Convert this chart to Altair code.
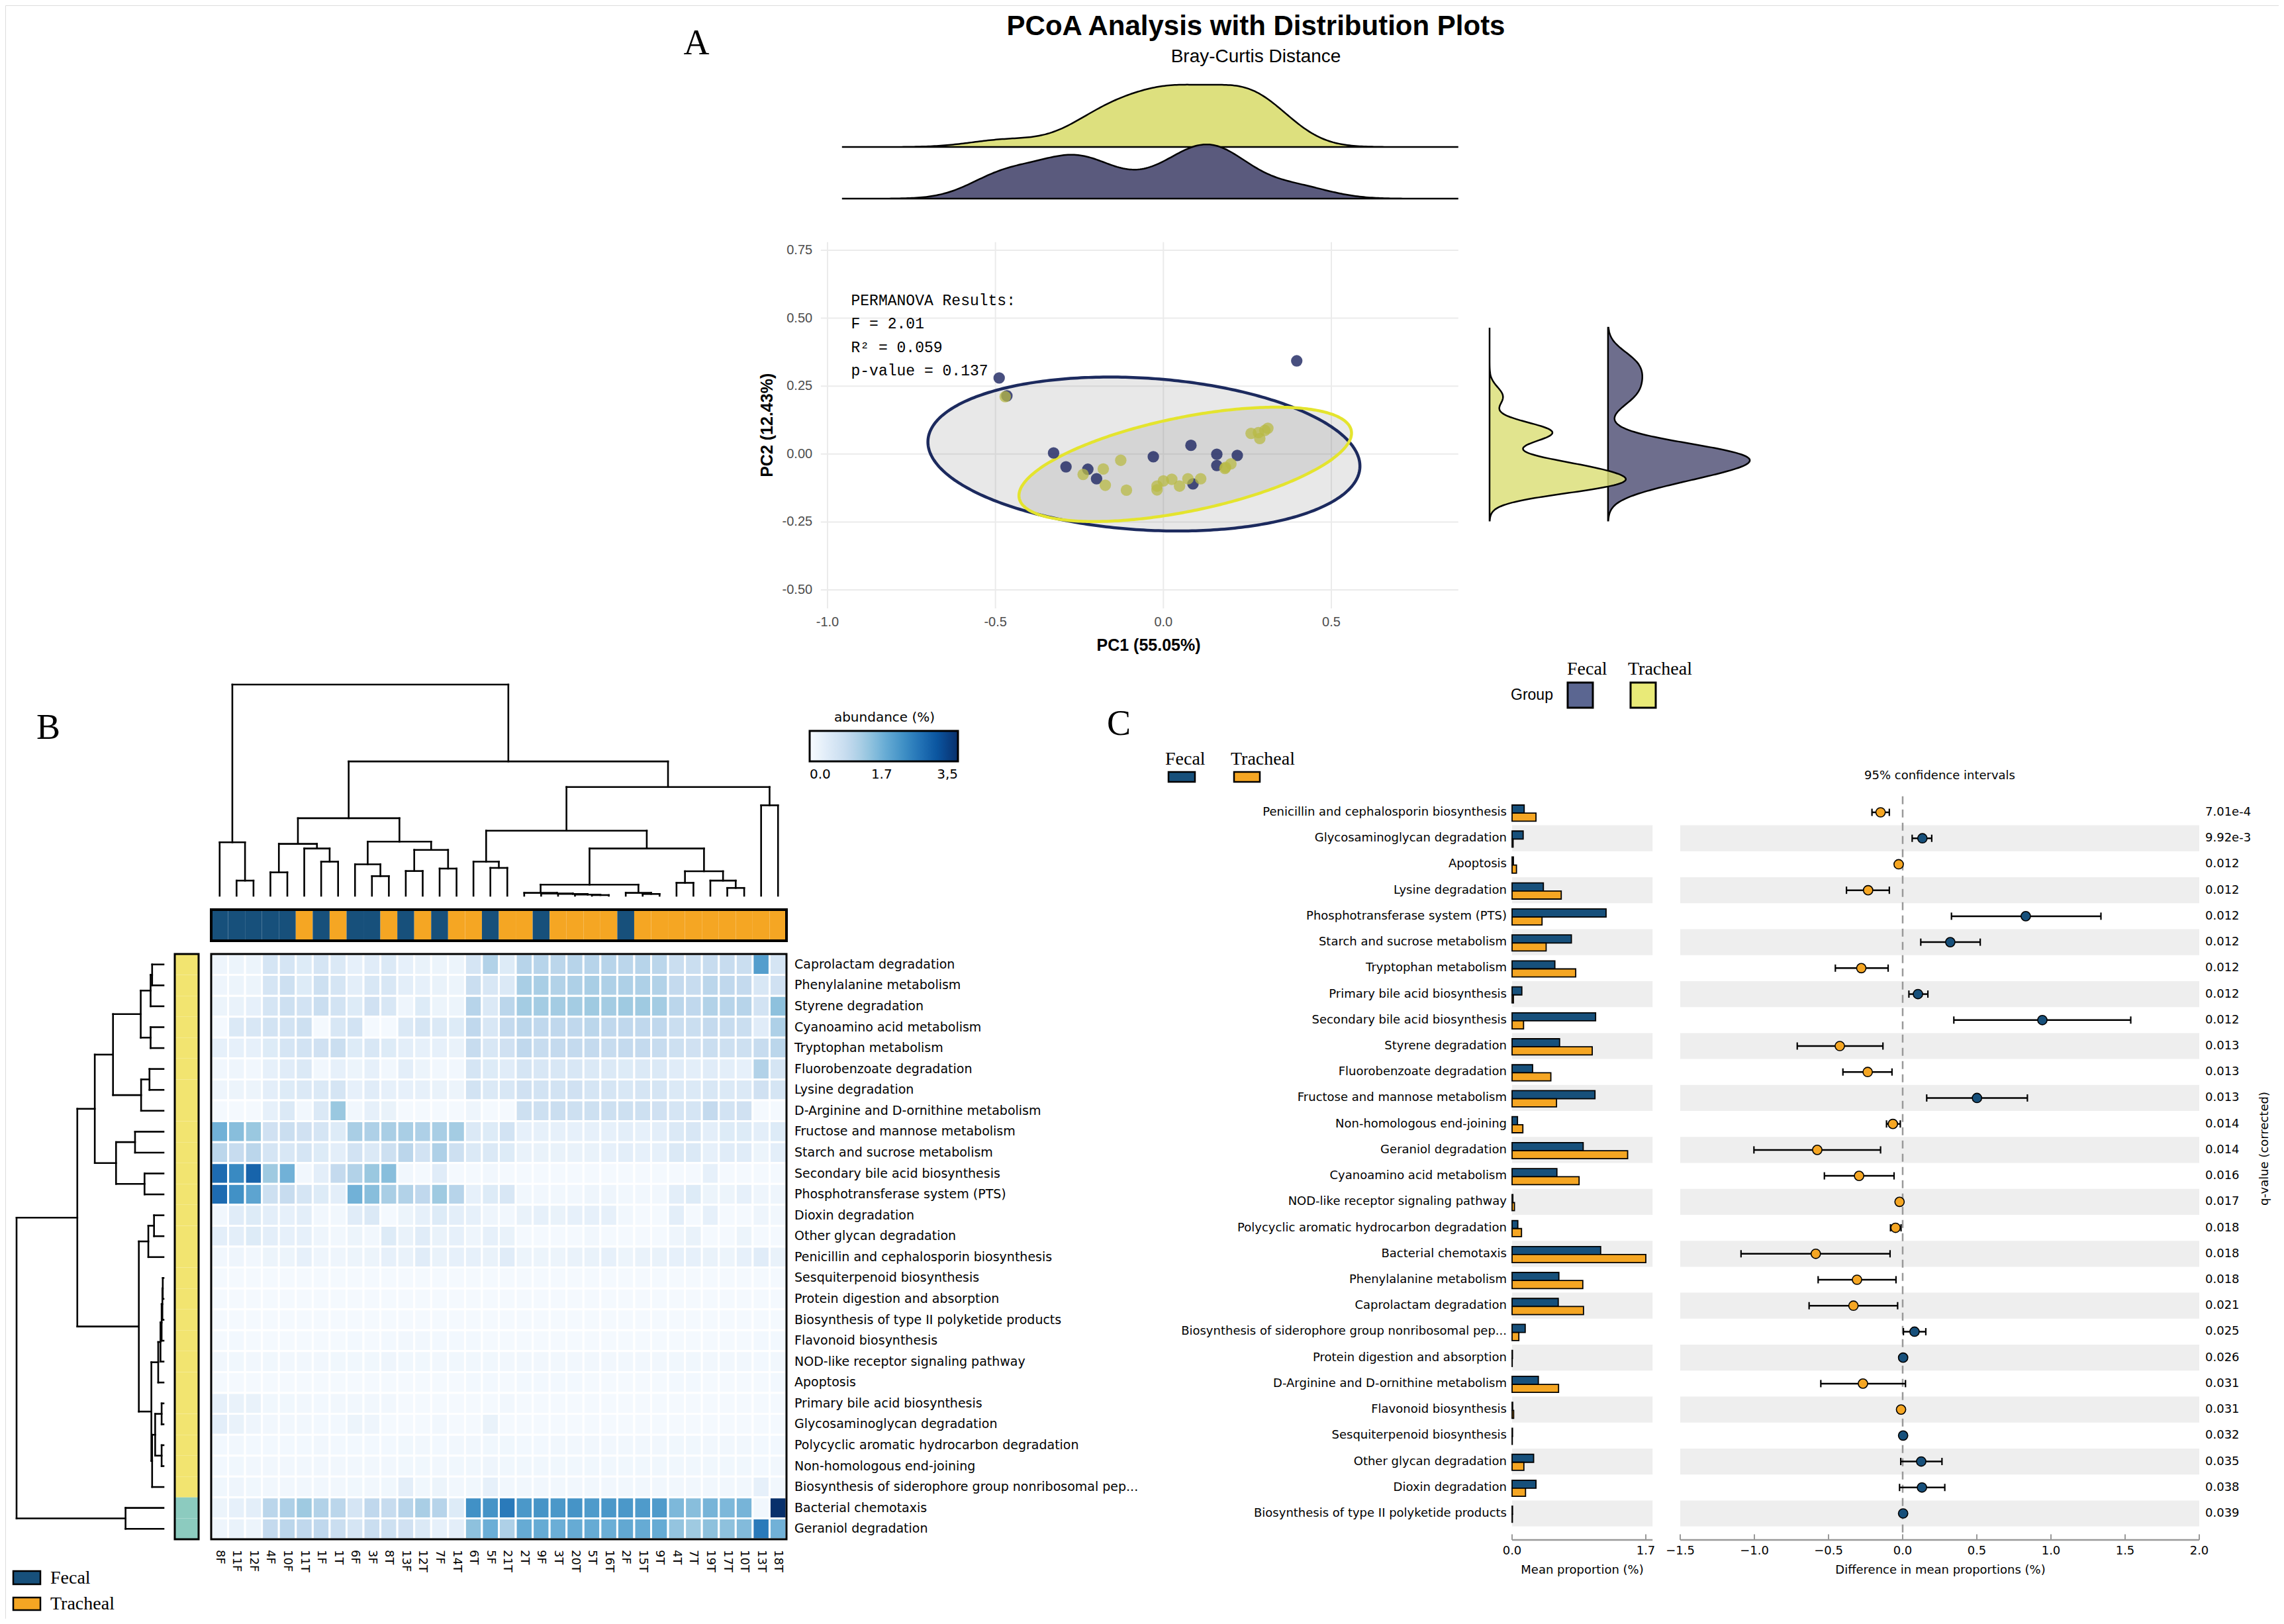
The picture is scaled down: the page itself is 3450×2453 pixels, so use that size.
import altair as alt
import numpy as np
import pandas as pd

alt.data_transformers.disable_max_rows()

# ============================ DATA ============================
# ---- Panel A : PCoA (Bray-Curtis) sample coordinates ----
fecal_pc1 = [-0.489, -0.466, 0.397, -0.327, -0.290, -0.225, -0.199, -0.030, 0.082, 0.159, 0.159, 0.220, 0.088]
fecal_pc2 = [0.280, 0.214, 0.343, 0.004, -0.047, -0.056, -0.091, -0.010, 0.032, -0.001, -0.042, -0.005, -0.110]
tracheal_pc1 = [-0.471, -0.239, -0.179, -0.127, -0.173, -0.110, -0.019, 0.000, 0.025, 0.048, 0.073,
                0.111, 0.185, 0.201, 0.261, 0.287, 0.302, 0.311, 0.183, -0.019, 0.283]
tracheal_pc2 = [0.211, -0.075, -0.055, -0.023, -0.115, -0.133, -0.132, -0.099, -0.093, -0.118, -0.091,
                -0.091, -0.049, -0.036, 0.076, 0.057, 0.087, 0.095, -0.053, -0.118, 0.079]
# confidence ellipses: centre, semi-axes, rotation (radians)
ell_group = ["Fecal", "Tracheal"]
ell_cx = [-0.058, 0.065]
ell_cy = [0.000, -0.038]
ell_a = [0.645, 0.510]
ell_b = [0.279, 0.171]
ell_rot = [-0.085, 0.258]
permanova_lines = ["PERMANOVA Results:", "F = 2.01", "R\u00b2 = 0.059", "p-value = 0.137"]
x_ticks_a = [-1.0, -0.5, 0.0, 0.5]
y_ticks_a = [-0.5, -0.25, 0.0, 0.25, 0.5, 0.75]

# ---- Panel B : heatmap ----
samples = ["8F", "11F", "12F", "4F", "10F", "11T", "1F", "1T", "6F", "3F", "8T", "13F", "12T", "7F", "14T",
           "6T", "5F", "21T", "2T", "9F", "3T", "20T", "5T", "16T", "2F", "15T", "9T", "4T", "7T", "19T",
           "17T", "10T", "13T", "18T"]
pathways_b = ["Caprolactam degradation", "Phenylalanine metabolism", "Styrene degradation",
              "Cyanoamino acid metabolism", "Tryptophan metabolism", "Fluorobenzoate degradation",
              "Lysine degradation", "D-Arginine and D-ornithine metabolism", "Fructose and mannose metabolism",
              "Starch and sucrose metabolism", "Secondary bile acid biosynthesis",
              "Phosphotransferase system (PTS)", "Dioxin degradation", "Other glycan degradation",
              "Penicillin and cephalosporin biosynthesis", "Sesquiterpenoid biosynthesis",
              "Protein digestion and absorption", "Biosynthesis of type II polyketide products",
              "Flavonoid biosynthesis", "NOD-like receptor signaling pathway", "Apoptosis",
              "Primary bile acid biosynthesis", "Glycosaminoglycan degradation",
              "Polycyclic aromatic hydrocarbon degradation", "Non-homologous end-joining",
              "Biosynthesis of siderophore group nonribosomal pep...", "Bacterial chemotaxis",
              "Geraniol degradation"]
ab_caprolactam = [.15, .2, .2, .6, .6, .45, .6, .5, .3, .4, .5, .3, .25, .2, .2, .6, 1.1, .45, 1.05, 1.05, 1.0, 1.05, 1.05, 1.05, 1.0, 1.05, 1.0, .8, .8, .85, .85, .8, 2.0, .6]
ab_phenylalanine = [.15, .2, .2, .6, .75, .45, .75, .6, .35, .55, .55, .35, .3, .25, .2, .8, .55, .5, 1.2, 1.2, 1.1, 1.15, 1.2, 1.15, 1.15, 1.15, 1.1, .9, .85, 1.0, .95, .9, .55, .7]
ab_styrene = [.2, .25, .3, .6, .75, .65, .8, .65, .45, .7, .55, .15, .45, .2, .2, 1.05, .5, 1.0, 1.25, 1.25, 1.25, 1.25, 1.3, 1.25, 1.3, 1.3, 1.25, 1.0, .95, 1.1, 1.05, 1.05, .65, 1.45]
ab_cyanoamino = [.05, .5, .55, .65, .65, .75, .05, .55, .65, .05, .05, .5, .6, .5, .45, .95, .55, .9, 1.0, .95, .95, .95, 1.0, .95, .95, .95, .95, .8, .8, .9, .85, .8, .4, 1.15]
ab_tryptophan = [.3, .3, .3, .45, .6, .65, .7, .8, .45, .55, .45, .35, .3, .3, .25, .85, .55, .7, .95, .85, .9, .9, .9, .85, .9, .9, .85, .75, .7, .8, .75, .75, .85, 1.0]
ab_fluorobenzoate = [.1, .15, .1, .3, .4, .5, .1, .3, .2, .3, .1, .35, .2, .1, .1, .6, .45, .4, .6, .55, .55, .55, .5, .5, .45, .5, .5, .4, .35, .4, .35, .3, 1.1, .6]
ab_lysine = [.15, .2, .2, .35, .45, .5, .5, .6, .3, .4, .3, .3, .3, .25, .2, .65, .5, .55, .7, .65, .65, .7, .6, .6, .55, .6, .6, .5, .5, .55, .5, .5, .7, .6]
ab_darginine = [.05, .05, .05, .3, .5, .1, .5, 1.35, .1, .3, .25, .05, .05, .05, .05, .15, .05, .05, .75, .75, .8, .75, .75, .75, .75, .75, .7, .6, .6, .9, .65, .7, .05, .05]
ab_fructose = [1.7, 1.5, 1.35, .7, .8, .7, .6, .45, 1.2, 1.15, 1.2, 1.2, 1.15, 1.2, 1.25, .5, .45, .65, .3, .3, .3, .3, .3, .3, .35, .3, .35, .5, .55, .35, .45, .45, .35, .45]
ab_starch = [1.0, .85, 1.0, .6, .55, .6, .45, .35, .65, .5, .75, 1.0, .65, 1.15, .75, .5, .5, .45, .25, .25, .25, .25, .25, .3, .35, .3, .3, .5, .5, .3, .4, .4, .2, .35]
ab_secondary_bile = [2.7, 2.3, 2.8, 1.3, 1.7, .1, .35, .9, 1.1, 1.35, 1.5, .1, .05, .4, .05, .05, .1, .05, .05, .05, .05, .05, .05, .05, .05, .05, .05, .05, .05, .3, .05, .05, .05, .05]
ab_pts = [2.7, 2.2, 1.9, .75, .85, .6, .45, .35, 1.7, 1.5, 1.2, 1.1, .95, 1.3, 1.05, .3, .45, .55, .1, .1, .1, .1, .15, .15, .1, .1, .1, .35, .45, .2, .2, .3, .15, .15]
ab_dioxin = [.1, .4, .45, .35, .3, .35, .1, .1, .4, .5, .05, .2, .3, .45, .35, .3, .15, .1, .25, .3, .25, .3, .3, .3, .1, .05, .05, .35, .05, .3, .05, .05, .15, .1]
ab_other_glycan = [.35, .35, .45, .35, .3, .3, .15, .1, .2, .1, .45, .25, .4, .25, .3, .15, .3, .25, .05, .05, .05, .05, .1, .05, .05, .05, .05, .15, .25, .05, .05, .2, .05, .05]
ab_penicillin = [.1, .15, .1, .2, .2, .3, .15, .15, .2, .2, .3, .25, .4, .25, .3, .3, .25, .4, .2, .2, .2, .25, .25, .3, .2, .25, .25, .3, .3, .25, .2, .3, .4, .25]
ab_sesquiterpenoid = [.05, .06, .05, .05, .05, .05, .06, .05, .05, .06, .05, .05, .06, .05, .05, .06, .05, .05, .05, .06, .05, .05, .06, .05, .05, .05, .05, .06, .05, .05, .05, .05, .06, .05]
ab_protein = [.06, .05, .05, .06, .05, .05, .05, .05, .06, .05, .05, .05, .05, .05, .05, .05, .05, .06, .05, .05, .05, .05, .05, .05, .05, .05, .05, .05, .05, .05, .05, .05, .05, .05]
ab_polyketide = [.05, .06, .05, .05, .06, .05, .05, .05, .05, .05, .05, .05, .05, .05, .05, .05, .06, .05, .05, .05, .05, .05, .05, .05, .05, .05, .05, .05, .05, .05, .05, .05, .06, .05]
ab_flavonoid = [.06, .08, .06, .06, .06, .06, .06, .06, .08, .06, .08, .1, .1, .08, .08, .08, .06, .06, .06, .06, .06, .06, .06, .06, .06, .06, .06, .06, .06, .06, .06, .06, .08, .08]
ab_nod = [.1, .12, .1, .12, .1, .1, .1, .12, .12, .12, .15, .12, .12, .1, .12, .12, .12, .1, .1, .1, .1, .1, .1, .1, .1, .1, .1, .12, .12, .1, .1, .1, .08, .1]
ab_apoptosis = [.06, .06, .06, .06, .06, .06, .06, .06, .06, .06, .06, .06, .06, .06, .06, .08, .08, .06, .08, .08, .08, .08, .06, .06, .06, .06, .06, .08, .08, .06, .06, .06, .06, .08]
ab_primary_bile = [.3, .25, .25, .12, .12, .1, .08, .1, .1, .1, .1, .06, .05, .05, .05, .06, .06, .1, .05, .05, .05, .05, .05, .05, .05, .05, .05, .05, .05, .05, .05, .05, .05, .05]
ab_glycosaminoglycan = [.35, .25, .15, .1, .1, .1, .08, .08, .2, .15, .06, .05, .05, .1, .05, .06, .25, .05, .05, .05, .05, .05, .05, .05, .05, .05, .05, .05, .05, .05, .05, .05, .05, .05]
ab_polycyclic = [.08, .1, .08, .08, .08, .08, .1, .08, .08, .08, .08, .12, .1, .08, .1, .1, .12, .12, .08, .08, .1, .1, .1, .1, .1, .1, .1, .12, .12, .1, .1, .1, .08, .08]
ab_nonhomologous = [.08, .12, .1, .1, .1, .1, .1, .1, .1, .1, .1, .12, .12, .1, .12, .12, .15, .12, .12, .12, .12, .12, .12, .12, .12, .12, .12, .12, .12, .12, .12, .12, .08, .1]
ab_siderophore = [.12, .15, .12, .1, .1, .1, .1, .1, .12, .1, .12, .35, .12, .2, .1, .12, .3, .1, .1, .1, .1, .1, .1, .1, .1, .1, .1, .1, .1, .1, .1, .1, .3, .1]
ab_chemotaxis = [.2, .3, .35, 1.0, 1.15, 1.3, 1.1, 1.0, .6, .95, .85, 1.05, 1.2, 1.05, .45, 2.2, 2.15, 2.5, 2.1, 2.15, 2.1, 2.15, 2.05, 2.1, 2.1, 2.05, 2.05, 1.6, 1.5, 1.65, 1.6, 1.65, .1, 3.5]
ab_geraniol = [.15, .25, .2, .9, 1.0, .95, .95, .8, .6, .8, .75, .7, .5, .3, .35, 1.45, 1.75, 1.15, 1.8, 1.8, 1.75, 1.8, 1.8, 1.75, 1.85, 1.8, 1.8, 1.4, 1.3, 1.45, 1.45, 1.55, 2.5, 1.7]
abundance_rows = [ab_caprolactam, ab_phenylalanine, ab_styrene, ab_cyanoamino, ab_tryptophan,
                  ab_fluorobenzoate, ab_lysine, ab_darginine, ab_fructose, ab_starch, ab_secondary_bile,
                  ab_pts, ab_dioxin, ab_other_glycan, ab_penicillin, ab_sesquiterpenoid, ab_protein,
                  ab_polyketide, ab_flavonoid, ab_nod, ab_apoptosis, ab_primary_bile, ab_glycosaminoglycan,
                  ab_polycyclic, ab_nonhomologous, ab_siderophore, ab_chemotaxis, ab_geraniol]
# hierarchical clustering (child a, child b, merge height); leaves 0..n-1, new nodes n, n+1, ...
col_merges = [(1, 2, 68), (0, 34, 240), (3, 4, 105), (6, 7, 153), (5, 37, 212), (36, 38, 233),
              (9, 10, 88), (8, 40, 141), (11, 12, 111), (13, 14, 122), (42, 43, 206), (41, 44, 243),
              (39, 45, 348), (16, 17, 125), (15, 47, 153), (22, 23, 3), (21, 49, 5), (20, 50, 8),
              (19, 51, 10), (18, 52, 13), (25, 26, 8), (24, 54, 13), (53, 55, 50), (27, 28, 58),
              (30, 31, 35), (29, 58, 68), (57, 59, 110), (56, 60, 212), (48, 61, 292), (32, 33, 406),
              (62, 63, 488), (46, 64, 603), (35, 65, 948)]
row_merges = [(0, 1, 30), (28, 2, 34), (3, 4, 34), (29, 30, 60), (5, 6, 37), (32, 7, 59), (31, 33, 133),
              (8, 9, 75), (10, 11, 50), (35, 36, 125), (34, 37, 181), (12, 13, 25), (39, 14, 40),
              (15, 16, 2), (41, 17, 3), (42, 18, 5), (43, 19, 8), (44, 20, 14), (21, 22, 5), (23, 24, 5),
              (46, 47, 22), (48, 25, 30), (45, 49, 32), (40, 50, 65), (38, 51, 227), (26, 27, 100),
              (52, 53, 387)]
row_cluster = ["cluster 1"] * 26 + ["cluster 2"] * 2
abundance_ticks = [0.0, 1.7, 3.5]

# ---- Panel C : extended error bar ----
pathways_c = ["Penicillin and cephalosporin biosynthesis", "Glycosaminoglycan degradation", "Apoptosis",
              "Lysine degradation", "Phosphotransferase system (PTS)", "Starch and sucrose metabolism",
              "Tryptophan metabolism", "Primary bile acid biosynthesis", "Secondary bile acid biosynthesis",
              "Styrene degradation", "Fluorobenzoate degradation", "Fructose and mannose metabolism",
              "Non-homologous end-joining", "Geraniol degradation", "Cyanoamino acid metabolism",
              "NOD-like receptor signaling pathway", "Polycyclic aromatic hydrocarbon degradation",
              "Bacterial chemotaxis", "Phenylalanine metabolism", "Caprolactam degradation",
              "Biosynthesis of siderophore group nonribosomal pep...", "Protein digestion and absorption",
              "D-Arginine and D-ornithine metabolism", "Flavonoid biosynthesis", "Sesquiterpenoid biosynthesis",
              "Other glycan degradation", "Dioxin degradation", "Biosynthesis of type II polyketide products"]
mean_fecal = [0.154, 0.141, 0.017, 0.398, 1.195, 0.754, 0.544, 0.124, 1.062, 0.604, 0.261, 1.054, 0.069,
              0.904, 0.570, 0.010, 0.073, 1.126, 0.595, 0.587, 0.167, 0.005, 0.334, 0.008, 0.006, 0.274,
              0.304, 0.006]
mean_tracheal = [0.304, 0.013, 0.056, 0.625, 0.381, 0.433, 0.809, 0.017, 0.146, 1.019, 0.493, 0.565, 0.137,
                 1.469, 0.852, 0.030, 0.120, 1.700, 0.899, 0.908, 0.086, 0.002, 0.591, 0.020, 0.003, 0.150,
                 0.171, 0.004]
diff_mean = [-0.149, 0.133, -0.027, -0.233, 0.830, 0.321, -0.279, 0.103, 0.942, -0.424, -0.236, 0.501,
             -0.066, -0.576, -0.294, -0.021, -0.048, -0.586, -0.308, -0.332, 0.080, 0.003, -0.268, -0.011,
             0.003, 0.125, 0.130, 0.003]
ci_low = [-0.207, 0.064, -0.036, -0.379, 0.329, 0.122, -0.454, 0.042, 0.345, -0.711, -0.403, 0.162, -0.109,
          -1.003, -0.528, -0.028, -0.082, -1.090, -0.570, -0.631, 0.005, 0.001, -0.552, -0.016, 0.001,
          -0.013, -0.021, 0.001]
ci_high = [-0.090, 0.196, -0.018, -0.090, 1.337, 0.523, -0.098, 0.170, 1.538, -0.133, -0.072, 0.841,
           -0.016, -0.149, -0.058, -0.014, -0.011, -0.085, -0.045, -0.034, 0.156, 0.005, 0.019, -0.006,
           0.005, 0.265, 0.284, 0.005]
q_values = ["7.01e-4", "9.92e-3", "0.012", "0.012", "0.012", "0.012", "0.012", "0.012", "0.012", "0.013",
            "0.013", "0.013", "0.014", "0.014", "0.016", "0.017", "0.018", "0.018", "0.018", "0.021",
            "0.025", "0.026", "0.031", "0.031", "0.032", "0.035", "0.038", "0.039"]
bar_ticks = [0.0, 1.7]
ci_ticks = [-1.5, -1.0, -0.5, 0.0, 0.5, 1.0, 1.5, 2.0]

# ============================ STYLE / LAYOUT ============================
W, H = 3434, 2437


def P(v):
    return v - 8


SANS = "DejaVu Sans"
ARIAL = "Liberation Sans"
SERIF = "Liberation Serif"
MONO = "Liberation Mono"
NAVY = "#17507b"
ORANGE = "#f5a623"
PT_F = "#283069"
PT_T = "#b8b945"
DENS_F = "#555579"
DENS_T = "#dcdf7a"

xA = alt.Scale(domain=[-1.0, 0.5], range=[P(1250), P(2011)])
yA = alt.Scale(domain=[-0.5, 0.75], range=[P(891), P(378)])
yTop = alt.Scale(domain=[0, 1], range=[P(300), P(212)])
xRight = alt.Scale(domain=[0, 1], range=[P(2250), P(2460)])

xB = alt.Scale(domain=[0, 34], range=[P(319), P(1188)])
yB = alt.Scale(domain=[0, 28], range=[P(1441), P(2325)])
hTop = alt.Scale(domain=[0, 948], range=[P(1353), P(1034)])
hLeft = alt.Scale(domain=[0, 387], range=[P(247), P(25)])
yColBar = alt.Scale(domain=[0, 1], range=[P(1374), P(1421)])
xRowBar = alt.Scale(domain=[0, 1], range=[P(264), P(300)])

yC = alt.Scale(domain=[0, 27], range=[P(1227), P(2286)])
xBar = alt.Scale(domain=[0, 1.7], range=[P(2284), P(2486)])
xCI = alt.Scale(domain=[-1.5, 2.0], range=[P(2538), P(3322)])

blue_dom = [0, 0.4375, 0.875, 1.3125, 1.75, 2.1875, 2.625, 3.0625, 3.5]
blue_rng = ["#f7fbff", "#deebf7", "#c6dbef", "#9ecae1", "#6baed6", "#4292c6", "#2171b5", "#08519c", "#08306b"]

layers = []


def txt(items, **kw):
    df = pd.DataFrame(items, columns=["x", "y", "t"])
    df["x"] = df["x"] - 8
    df["y"] = df["y"] - 8
    return alt.Chart(df).mark_text(**kw).encode(
        x=alt.X("x:Q", scale=None, axis=None),
        y=alt.Y("y:Q", scale=None, axis=None),
        text=alt.Text("t:N"))


def boxes(items, **kw):
    df = pd.DataFrame(items, columns=["x0", "y0", "x1", "y1", "fill"])
    for c in ["x0", "y0", "x1", "y1"]:
        df[c] = df[c] - 8
    return alt.Chart(df).mark_rect(**kw).encode(
        x=alt.X("x0:Q", scale=None, axis=None), x2="x1:Q",
        y=alt.Y("y0:Q", scale=None, axis=None), y2="y1:Q",
        fill=alt.Fill("fill:N", scale=None))


# ============================ PANEL A ============================
layers.append(txt([(1052, 66, "A")], font=SERIF, fontSize=54, align="center", baseline="middle"))
layers.append(txt([(1897, 40, "PCoA Analysis with Distribution Plots")], font=ARIAL, fontSize=42,
                  fontWeight="bold", align="center", baseline="middle"))
layers.append(txt([(1897, 86, "Bray-Curtis Distance")], font=ARIAL, fontSize=28, align="center",
                  baseline="middle"))

# grid
gx = pd.DataFrame({"x": x_ticks_a, "lo": -0.568, "hi": 0.78})
layers.append(alt.Chart(gx).mark_rule(color="#ebebeb", strokeWidth=2).encode(
    x=alt.X("x:Q", scale=xA, axis=None), y=alt.Y("lo:Q", scale=yA, axis=None), y2="hi:Q"))
gy = pd.DataFrame({"y": y_ticks_a, "lo": -1.02, "hi": 0.878})
layers.append(alt.Chart(gy).mark_rule(color="#ebebeb", strokeWidth=2).encode(
    y=alt.Y("y:Q", scale=yA, axis=None), x=alt.X("lo:Q", scale=xA, axis=None), x2="hi:Q"))
# tick labels
tly = pd.DataFrame({"y": y_ticks_a, "x": -1.045, "t": [f"{v:.2f}" for v in y_ticks_a]})
layers.append(alt.Chart(tly).mark_text(align="right", baseline="middle", font=ARIAL, fontSize=20,
                                       color="#4d4d4d").encode(
    x=alt.X("x:Q", scale=xA, axis=None), y=alt.Y("y:Q", scale=yA, axis=None), text="t:N"))
tlx = pd.DataFrame({"x": x_ticks_a, "y": -0.62, "t": [f"{v:.1f}" for v in x_ticks_a]})
layers.append(alt.Chart(tlx).mark_text(align="center", baseline="middle", font=ARIAL, fontSize=20,
                                       color="#4d4d4d").encode(
    x=alt.X("x:Q", scale=xA, axis=None), y=alt.Y("y:Q", scale=yA, axis=None), text="t:N"))
axt = pd.DataFrame({"x": [-0.044], "y": [-0.705], "t": ["PC1 (55.05%)"]})
layers.append(alt.Chart(axt).mark_text(align="center", baseline="middle", font=ARIAL, fontSize=25,
                                       fontWeight="bold").encode(
    x=alt.X("x:Q", scale=xA, axis=None), y=alt.Y("y:Q", scale=yA, axis=None), text="t:N"))
ayt = pd.DataFrame({"x": [-1.18], "y": [0.106], "t": ["PC2 (12.43%)"]})
layers.append(alt.Chart(ayt).mark_text(align="center", baseline="middle", font=ARIAL, fontSize=25,
                                       fontWeight="bold", angle=270).encode(
    x=alt.X("x:Q", scale=xA, axis=None), y=alt.Y("y:Q", scale=yA, axis=None), text="t:N"))

# ellipses
for g, cx, cy, a, b, r in zip(ell_group, ell_cx, ell_cy, ell_a, ell_b, ell_rot):
    A = np.sin(r) ** 2 / a ** 2 + np.cos(r) ** 2 / b ** 2
    xmax = np.sqrt(a ** 2 * np.cos(r) ** 2 + b ** 2 * np.sin(r) ** 2)
    u = xmax * np.cos(np.linspace(np.pi, 0, 300))
    Bq = 2 * u * np.sin(r) * np.cos(r) * (1 / a ** 2 - 1 / b ** 2)
    Cq = u ** 2 * (np.cos(r) ** 2 / a ** 2 + np.sin(r) ** 2 / b ** 2) - 1
    disc = np.sqrt(np.clip(Bq ** 2 - 4 * A * Cq, 0, None))
    v1 = (-Bq + disc) / (2 * A)
    v2 = (-Bq - disc) / (2 * A)
    fill_df = pd.DataFrame({"x": cx + u, "hi": cy + np.maximum(v1, v2), "lo": cy + np.minimum(v1, v2)})
    layers.append(alt.Chart(fill_df).mark_area(color="#7f7f7f", fillOpacity=0.18).encode(
        x=alt.X("x:Q", scale=xA, axis=None), y=alt.Y("hi:Q", scale=yA, axis=None), y2="lo:Q"))
for g, cx, cy, a, b, r in zip(ell_group, ell_cx, ell_cy, ell_a, ell_b, ell_rot):
    t = np.linspace(0, 2 * np.pi, 361)
    ex = cx + a * np.cos(r) * np.cos(t) - b * np.sin(r) * np.sin(t)
    ey = cy + a * np.sin(r) * np.cos(t) + b * np.cos(r) * np.sin(t)
    odf = pd.DataFrame({"x": ex, "y": ey, "t": t})
    col = "#1c2a5e" if g == "Fecal" else "#e4e42e"
    layers.append(alt.Chart(odf).mark_line(color=col, strokeWidth=4.5).encode(
        x=alt.X("x:Q", scale=xA, axis=None), y=alt.Y("y:Q", scale=yA, axis=None), order="t:Q"))

ptsF = pd.DataFrame({"pc1": fecal_pc1, "pc2": fecal_pc2})
ptsT = pd.DataFrame({"pc1": tracheal_pc1, "pc2": tracheal_pc2})
layers.append(alt.Chart(ptsF).mark_circle(size=300, color=PT_F, opacity=0.85).encode(
    x=alt.X("pc1:Q", scale=xA, axis=None), y=alt.Y("pc2:Q", scale=yA, axis=None)))
layers.append(alt.Chart(ptsT).mark_circle(size=300, color=PT_T, opacity=0.75).encode(
    x=alt.X("pc1:Q", scale=xA, axis=None), y=alt.Y("pc2:Q", scale=yA, axis=None)))

perm = pd.DataFrame({"x": -0.93, "y": [0.564, 0.479, 0.393, 0.307], "t": permanova_lines})
layers.append(alt.Chart(perm).mark_text(align="left", baseline="middle", font=MONO, fontSize=23).encode(
    x=alt.X("x:Q", scale=xA, axis=None), y=alt.Y("y:Q", scale=yA, axis=None), text="t:N"))


# marginal densities
def top_density(df, bw, offset, factor, fill):
    return alt.Chart(df).transform_density(
        "pc1", as_=["pos", "dens"], bandwidth=bw, extent=[-0.957, 0.878], steps=300
    ).transform_joinaggregate(dmax="max(dens)").transform_calculate(
        v=f"{offset} + {factor} * datum.dens / datum.dmax", base=f"{offset}"
    ).mark_area(fill=fill, stroke="black", strokeWidth=2.5, fillOpacity=0.97).encode(
        x=alt.X("pos:Q", scale=xA, axis=None), y=alt.Y("v:Q", scale=yTop, axis=None), y2="base:Q")


def right_density(df, bw, offset, factor, fill):
    return alt.Chart(df).transform_density(
        "pc2", as_=["pos", "dens"], bandwidth=bw, extent=[-0.245, 0.465], steps=300
    ).transform_joinaggregate(dmax="max(dens)").transform_calculate(
        v=f"{offset} + {factor} * datum.dens / datum.dmax", base=f"{offset}"
    ).mark_area(orient="horizontal", fill=fill, stroke="black", strokeWidth=2.5, fillOpacity=0.85).encode(
        y=alt.Y("pos:Q", scale=yA, axis=None), x=alt.X("v:Q", scale=xRight, axis=None), x2="base:Q")


layers.append(top_density(ptsT, 0.105, 0.886, 1.07, DENS_T))
layers.append(top_density(ptsF, 0.10, 0.0, 0.93, DENS_F))
layers.append(right_density(ptsF, 0.045, 0.852, 1.02, DENS_F))
layers.append(right_density(ptsT, 0.035, 0.0, 0.98, DENS_T))

# group legend
layers.append(txt([(2282, 1050, "Group")], font=ARIAL, fontSize=23, align="left", baseline="middle"))
layers.append(boxes([(2368, 1031, 2406, 1069, "#5b6691"), (2463, 1031, 2501, 1069, "#e9ea78")],
                    stroke="black", strokeWidth=3))
layers.append(txt([(2367, 1011, "Fecal"), (2459, 1011, "Tracheal")], font=SERIF, fontSize=28,
                  align="left", baseline="middle"))

# ============================ PANEL B ============================
layers.append(txt([(73, 1100, "B")], font=SERIF, fontSize=54, align="center", baseline="middle"))

heat = []
for ri, vals in enumerate(abundance_rows):
    for ci, v in enumerate(vals):
        heat.append({"r0": ri, "r1": ri + 1, "c0": ci, "c1": ci + 1, "v": v})
heat = pd.DataFrame(heat)
layers.append(alt.Chart(heat).mark_rect(stroke="white", strokeWidth=3).encode(
    x=alt.X("c0:Q", scale=xB, axis=None), x2="c1:Q",
    y=alt.Y("r0:Q", scale=yB, axis=None), y2="r1:Q",
    color=alt.Color("v:Q", scale=alt.Scale(domain=blue_dom, range=blue_rng),
                    legend=alt.Legend(orient="none", legendX=P(1223), legendY=P(1074), direction="horizontal",
                                      gradientLength=224, gradientThickness=46, title="abundance (%)",
                                      titleFont=SANS, titleFontSize=20, titleFontWeight="normal",
                                      titleAnchor="middle", titlePadding=10, labelFont=SANS, labelFontSize=20,
                                      values=abundance_ticks, labelOverlap=False, labelOffset=10,
                                      labelExpr="datum.value == 3.5 ? '3,5' : format(datum.value, '.1f')",
                                      gradientStrokeColor="black", gradientStrokeWidth=3, padding=0))))
frame_b = pd.DataFrame({"c0": [0], "c1": [34], "r0": [0], "r1": [28]})
layers.append(alt.Chart(frame_b).mark_rect(fillOpacity=0, stroke="black", strokeWidth=3).encode(
    x=alt.X("c0:Q", scale=xB, axis=None), x2="c1:Q", y=alt.Y("r0:Q", scale=yB, axis=None), y2="r1:Q"))

# column group colour bar
colbar = pd.DataFrame({"c0": list(range(34)), "c1": [i + 1 for i in range(34)], "b0": 0, "b1": 1,
                       "grp": ["Fecal" if s.endswith("F") else "Tracheal" for s in samples]})
layers.append(alt.Chart(colbar).mark_rect().encode(
    x=alt.X("c0:Q", scale=xB, axis=None), x2="c1:Q", y=alt.Y("b0:Q", scale=yColBar, axis=None), y2="b1:Q",
    color=alt.Color("grp:N", scale=alt.Scale(domain=["Fecal", "Tracheal"], range=[NAVY, ORANGE]),
                    legend=None)))
layers.append(alt.Chart(pd.DataFrame({"c0": [0], "c1": [34], "b0": [0], "b1": [1]})).mark_rect(
    fillOpacity=0, stroke="black", strokeWidth=4).encode(
    x=alt.X("c0:Q", scale=xB, axis=None), x2="c1:Q", y=alt.Y("b0:Q", scale=yColBar, axis=None), y2="b1:Q"))

# row cluster colour bar
rowbar = pd.DataFrame({"r0": list(range(28)), "r1": [i + 1 for i in range(28)], "b0": 0, "b1": 1,
                       "cl": row_cluster})
layers.append(alt.Chart(rowbar).mark_rect().encode(
    y=alt.Y("r0:Q", scale=yB, axis=None), y2="r1:Q", x=alt.X("b0:Q", scale=xRowBar, axis=None), x2="b1:Q",
    color=alt.Color("cl:N", scale=alt.Scale(domain=["cluster 1", "cluster 2"], range=["#f2e470", "#8ccbbf"]),
                    legend=None)))
layers.append(alt.Chart(pd.DataFrame({"r0": [0], "r1": [28], "b0": [0], "b1": [1]})).mark_rect(
    fillOpacity=0, stroke="black", strokeWidth=3).encode(
    y=alt.Y("r0:Q", scale=yB, axis=None), y2="r1:Q", x=alt.X("b0:Q", scale=xRowBar, axis=None), x2="b1:Q"))


def dendro_segments(merges, n_leaves):
    pos = {i: i + 0.5 for i in range(n_leaves)}
    hgt = {i: 0.0 for i in range(n_leaves)}
    segs = []
    for k, (a, b, h) in enumerate(merges):
        segs.append((pos[a], hgt[a], pos[a], h))
        segs.append((pos[a], h, pos[b], h))
        segs.append((pos[b], h, pos[b], hgt[b]))
        pos[n_leaves + k] = (pos[a] + pos[b]) / 2
        hgt[n_leaves + k] = h
    return pd.DataFrame(segs, columns=["p0", "h0", "p1", "h1"])


top_seg = dendro_segments(col_merges, 34)
layers.append(alt.Chart(top_seg).mark_rule(color="black", strokeWidth=2.6, strokeCap="square").encode(
    x=alt.X("p0:Q", scale=xB, axis=None), x2="p1:Q", y=alt.Y("h0:Q", scale=hTop, axis=None), y2="h1:Q"))
left_seg = dendro_segments(row_merges, 28)
layers.append(alt.Chart(left_seg).mark_rule(color="black", strokeWidth=2.6, strokeCap="square").encode(
    y=alt.Y("p0:Q", scale=yB, axis=None), y2="p1:Q", x=alt.X("h0:Q", scale=hLeft, axis=None), x2="h1:Q"))

# labels
rl = pd.DataFrame({"p": [i + 0.5 for i in range(28)], "t": pathways_b})
layers.append(alt.Chart(rl).mark_text(align="left", baseline="middle", font=SANS, fontSize=19).encode(
    y=alt.Y("p:Q", scale=yB, axis=None), x=alt.value(P(1200)), text="t:N"))
cl = pd.DataFrame({"p": [i + 0.5 for i in range(34)], "t": samples})
layers.append(alt.Chart(cl).mark_text(align="left", baseline="middle", font=SANS, fontSize=18,
                                      angle=90).encode(
    x=alt.X("p:Q", scale=xB, axis=None), y=alt.value(P(2341)), text="t:N"))

# legend bottom-left
layers.append(boxes([(20, 2373, 61, 2393, NAVY), (20, 2413, 61, 2432, ORANGE)], stroke="black",
                    strokeWidth=2.5))
layers.append(txt([(76, 2384, "Fecal"), (76, 2423, "Tracheal")], font=SERIF, fontSize=28, align="left",
                  baseline="middle"))

# ============================ PANEL C ============================
layers.append(txt([(1690, 1094, "C")], font=SERIF, fontSize=54, align="center", baseline="middle"))
layers.append(txt([(1760, 1147, "Fecal"), (1859, 1147, "Tracheal")], font=SERIF, fontSize=28, align="left",
                  baseline="middle"))
layers.append(boxes([(1765, 1166, 1805, 1181, NAVY), (1864, 1166, 1903, 1181, ORANGE)], stroke="black",
                    strokeWidth=2.5))

nC = len(pathways_c)
bands = pd.DataFrame({"r0": [i - 0.5 for i in range(1, nC, 2)], "r1": [i + 0.5 for i in range(1, nC, 2)],
                      "a0": 0.0, "a1": 1.786, "d0": -1.5, "d1": 2.0})
layers.append(alt.Chart(bands).mark_rect(color="#eeeeee").encode(
    x=alt.X("a0:Q", scale=xBar, axis=None), x2="a1:Q", y=alt.Y("r0:Q", scale=yC, axis=None), y2="r1:Q"))
layers.append(alt.Chart(bands).mark_rect(color="#eeeeee").encode(
    x=alt.X("d0:Q", scale=xCI, axis=None), x2="d1:Q", y=alt.Y("r0:Q", scale=yC, axis=None), y2="r1:Q"))

bars = pd.DataFrame({
    "r0": [i - 0.28 for i in range(nC)] + [i + 0.03 for i in range(nC)],
    "r1": [i + 0.03 for i in range(nC)] + [i + 0.34 for i in range(nC)],
    "v": mean_fecal + mean_tracheal,
    "z": 0.0,
    "grp": ["Fecal"] * nC + ["Tracheal"] * nC})
layers.append(alt.Chart(bars).mark_rect(stroke="black", strokeWidth=1.8).encode(
    x=alt.X("z:Q", scale=xBar, axis=None), x2="v:Q", y=alt.Y("r0:Q", scale=yC, axis=None), y2="r1:Q",
    color=alt.Color("grp:N", scale=alt.Scale(domain=["Fecal", "Tracheal"], range=[NAVY, ORANGE]),
                    legend=None)))

# zero line
zl = pd.DataFrame({"x": [0.0], "a": [-0.62], "b": [27.75]})
layers.append(alt.Chart(zl).mark_rule(color="#999999", strokeWidth=2.5, strokeDash=[12, 8]).encode(
    x=alt.X("x:Q", scale=xCI, axis=None), y=alt.Y("a:Q", scale=yC, axis=None), y2="b:Q"))

ci = pd.DataFrame({"r": list(range(nC)), "d": diff_mean, "lo": ci_low, "hi": ci_high,
                   "c0": [i - 0.14 for i in range(nC)], "c1": [i + 0.14 for i in range(nC)],
                   "col": [ORANGE if t > f else NAVY for f, t in zip(mean_fecal, mean_tracheal)]})
layers.append(alt.Chart(ci).mark_rule(color="black", strokeWidth=2.5).encode(
    x=alt.X("lo:Q", scale=xCI, axis=None), x2="hi:Q", y=alt.Y("r:Q", scale=yC, axis=None)))
layers.append(alt.Chart(ci).mark_rule(color="black", strokeWidth=2.2).encode(
    x=alt.X("lo:Q", scale=xCI, axis=None), y=alt.Y("c0:Q", scale=yC, axis=None), y2="c1:Q"))
layers.append(alt.Chart(ci).mark_rule(color="black", strokeWidth=2.2).encode(
    x=alt.X("hi:Q", scale=xCI, axis=None), y=alt.Y("c0:Q", scale=yC, axis=None), y2="c1:Q"))
layers.append(alt.Chart(ci).mark_circle(size=200, stroke="black", strokeWidth=1.6, opacity=1).encode(
    x=alt.X("d:Q", scale=xCI, axis=None), y=alt.Y("r:Q", scale=yC, axis=None),
    fill=alt.Fill("col:N", scale=None)))

lab = pd.DataFrame({"r": list(range(nC)), "t": pathways_c, "q": q_values})
layers.append(alt.Chart(lab).mark_text(align="right", baseline="middle", font=SANS, fontSize=18).encode(
    y=alt.Y("r:Q", scale=yC, axis=None), x=alt.value(P(2276)), text="t:N"))
layers.append(alt.Chart(lab).mark_text(align="left", baseline="middle", font=SANS, fontSize=18).encode(
    y=alt.Y("r:Q", scale=yC, axis=None), x=alt.value(P(3331)), text="q:N"))

# axes of panel C
axl = pd.DataFrame({"a": [0.0], "b": [1.786], "y": [28.02]})
layers.append(alt.Chart(axl).mark_rule(color="#999999", strokeWidth=2.5).encode(
    x=alt.X("a:Q", scale=xBar, axis=None), x2="b:Q", y=alt.Y("y:Q", scale=yC, axis=None)))
axd = pd.DataFrame({"a": [-1.5], "b": [2.0], "y": [28.02]})
layers.append(alt.Chart(axd).mark_rule(color="#999999", strokeWidth=2.5).encode(
    x=alt.X("a:Q", scale=xCI, axis=None), x2="b:Q", y=alt.Y("y:Q", scale=yC, axis=None)))
btk = pd.DataFrame({"x": bar_ticks, "y0": 28.02, "y1": 27.8, "yl": 28.45,
                    "t": [f"{v:.1f}" for v in bar_ticks]})
layers.append(alt.Chart(btk).mark_rule(color="#999999", strokeWidth=2).encode(
    x=alt.X("x:Q", scale=xBar, axis=None), y=alt.Y("y0:Q", scale=yC, axis=None), y2="y1:Q"))
layers.append(alt.Chart(btk).mark_text(align="center", baseline="middle", font=SANS, fontSize=18).encode(
    x=alt.X("x:Q", scale=xBar, axis=None), y=alt.Y("yl:Q", scale=yC, axis=None), text="t:N"))
dtk = pd.DataFrame({"x": ci_ticks, "y0": 28.02, "y1": 27.8, "yl": 28.45,
                    "t": [f"{v:.1f}".replace("-", "\u2212") for v in ci_ticks]})
layers.append(alt.Chart(dtk).mark_rule(color="#999999", strokeWidth=2).encode(
    x=alt.X("x:Q", scale=xCI, axis=None), y=alt.Y("y0:Q", scale=yC, axis=None), y2="y1:Q"))
layers.append(alt.Chart(dtk).mark_text(align="center", baseline="middle", font=SANS, fontSize=18).encode(
    x=alt.X("x:Q", scale=xCI, axis=None), y=alt.Y("yl:Q", scale=yC, axis=None), text="t:N"))

layers.append(txt([(2390, 2372, "Mean proportion (%)"), (2931, 2372, "Difference in mean proportions (%)")],
                  font=SANS, fontSize=18, align="center", baseline="middle"))
layers.append(txt([(2930, 1172, "95% confidence intervals")], font=SANS, fontSize=18, align="center",
                  baseline="middle"))
layers.append(txt([(3421, 1735, "q-value (corrected)")], font=SANS, fontSize=18, align="center",
                  baseline="middle", angle=270))

# ============================ ASSEMBLE ============================
chart = alt.layer(*layers).resolve_scale(
    x="independent", y="independent", color="independent"
).properties(
    width=W, height=H, autosize=alt.AutoSizeParams(type="none"), padding=0
).configure_view(stroke=None).configure(background="white")

chart.save("out.html", embed_options={"renderer": "svg", "actions": False})
